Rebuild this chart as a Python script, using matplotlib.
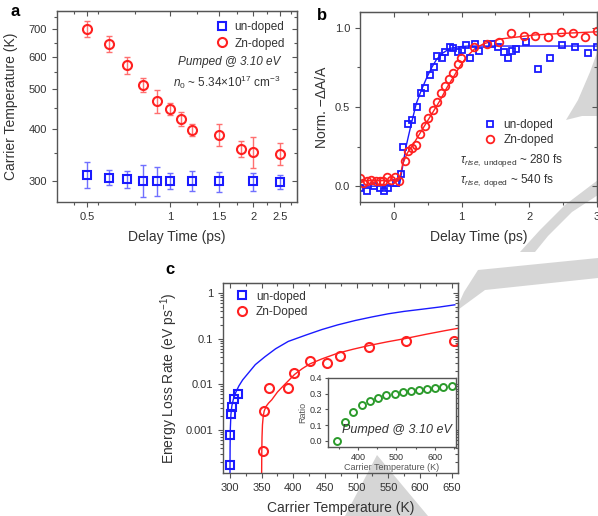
import matplotlib
matplotlib.use('Agg')
import matplotlib.pyplot as plt
from matplotlib.ticker import FixedLocator, NullFormatter, FixedFormatter, MultipleLocator, LogLocator
from matplotlib.patches import Polygon

plt.rcParams['font.family'] = ['Liberation Sans', 'DejaVu Sans']
plt.rcParams['mathtext.fontset'] = 'custom'
plt.rcParams['mathtext.rm'] = 'Liberation Sans'
plt.rcParams['mathtext.it'] = 'Liberation Sans:italic'

# ---- panel a: carrier temperature vs delay
a_t_zn = [0.5, 0.6, 0.7, 0.8, 0.9, 1.0, 1.1, 1.2, 1.5, 1.8, 2.0, 2.5]
a_T_zn = [703, 646, 572, 513, 469, 449, 424, 398, 388, 359, 352, 349]
a_err_zn = [31, 30, 28, 21, 30, 15, 16, 13, 24, 16, 31, 22]
a_t_un = [0.5, 0.6, 0.7, 0.8, 0.9, 1.0, 1.2, 1.5, 2.0, 2.5]
a_T_un = [310, 305, 302, 300, 299.5, 299.5, 299.5, 298.5, 298.5, 298]
a_err_un = [22, 13, 15, 27, 25, 14, 17, 17, 15, 12]

# ---- panel b: normalised -dA/A
b_t_un = [-0.50, -0.40, -0.30, -0.21, -0.15, -0.09, 0.03, 0.10, 0.14, 0.21, 0.27, 0.34,
          0.40, 0.46, 0.53, 0.59, 0.64, 0.71, 0.76, 0.83, 0.88, 0.95, 1.00, 1.07, 1.13,
          1.20, 1.26, 1.38, 1.45, 1.54, 1.62, 1.68, 1.74, 1.81, 1.95, 2.13, 2.31, 2.49,
          2.68, 2.86, 3.00]
b_s_un = [-0.01, -0.03, 0.00, -0.01, -0.03, -0.01, 0.02, 0.08, 0.25, 0.39, 0.42, 0.50,
          0.59, 0.62, 0.70, 0.75, 0.82, 0.81, 0.85, 0.88, 0.87, 0.845, 0.86, 0.89, 0.81,
          0.90, 0.855, 0.90, 0.90, 0.876, 0.845, 0.81, 0.855, 0.866, 0.91, 0.74, 0.81, 0.89,
          0.88, 0.84, 0.88]
b_t_zn = [-0.50, -0.46, -0.40, -0.34, -0.27, -0.21, -0.16, -0.10, -0.04, 0.02, 0.08, 0.16,
          0.21, 0.27, 0.32, 0.39, 0.46, 0.51, 0.58, 0.64, 0.70, 0.76, 0.81, 0.88, 0.94,
          0.99, 1.18, 1.37, 1.55, 1.73, 1.92, 2.09, 2.28, 2.47, 2.64, 2.83, 3.00]
b_s_zn = [0.05, 0.02, 0.03, 0.04, 0.03, 0.03, 0.03, 0.06, 0.04, 0.06, 0.03, 0.16,
          0.22, 0.24, 0.26, 0.33, 0.38, 0.43, 0.48, 0.53, 0.59, 0.63, 0.68, 0.715, 0.77,
          0.81, 0.88, 0.90, 0.91, 0.97, 0.95, 0.95, 0.94, 0.975, 0.965, 0.945, 0.98]
b_fit_t_un = [-0.5, 0.08, 0.12, 0.18, 0.25, 0.33, 0.40, 0.48, 0.56, 0.63, 0.72, 0.83, 0.95, 1.1, 1.3, 3.0]
b_fit_un = [0.0, 0.0, 0.10, 0.25, 0.38, 0.52, 0.60, 0.68, 0.75, 0.80, 0.84, 0.87, 0.88, 0.885, 0.885, 0.885]
b_fit_t_zn = [-0.5, 0.08, 0.13, 0.20, 0.28, 0.38, 0.48, 0.58, 0.68, 0.78, 0.88, 0.98, 1.08, 1.2, 1.33, 1.58, 2.08, 2.5, 3.0]
b_fit_zn = [0.035, 0.035, 0.14, 0.21, 0.26, 0.33, 0.40, 0.47, 0.54, 0.62, 0.69, 0.76, 0.82, 0.87, 0.90, 0.93, 0.955, 0.965, 0.975]

# ---- panel c: energy loss rate vs carrier temperature
c_T_un = [300.5, 300.5, 301, 302.7, 306, 312]
c_rate_un = [1.7e-4, 7.8e-4, 2.2e-3, 3.2e-3, 4.7e-3, 6.0e-3]
c_T_zn = [351.5, 354, 362, 391, 401, 427, 453, 474, 519, 578, 653]
c_rate_zn = [3.5e-4, 2.6e-3, 8.5e-3, 8.5e-3, 0.018, 0.032, 0.029, 0.042, 0.067, 0.087, 0.087]
c_fit_T_un = [300.0, 300.2, 300.6, 301.5, 303, 305.5, 309, 314, 320, 328, 340, 355, 372, 392,
              420, 445, 470, 498, 525, 550, 575, 603, 630, 655]
c_fit_un = [1.0e-4, 4e-4, 1.1e-3, 2.2e-3, 3.4e-3, 4.8e-3, 6.6e-3, 9.2e-3, 0.0125, 0.017, 0.027,
            0.040, 0.060, 0.087, 0.12, 0.158, 0.20, 0.25, 0.30, 0.35, 0.395, 0.44, 0.49, 0.55]
c_fit_T_zn = [350.0, 350.2, 350.6, 351.3, 352.5, 354, 357, 361, 366, 375, 385, 393, 402, 414,
              426, 445, 470, 495, 520, 548, 576, 610, 640, 662]
c_fit_zn = [1.1e-4, 3e-4, 7e-4, 1.3e-3, 2.0e-3, 2.6e-3, 3.3e-3, 3.9e-3, 4.6e-3, 6.8e-3, 9.5e-3,
            0.0123, 0.0165, 0.022, 0.028, 0.036, 0.048, 0.059, 0.071, 0.085, 0.10, 0.125, 0.15, 0.17]
ins_T = [345, 367, 388, 410, 431, 453, 474, 496, 516, 537, 558, 579, 601, 622, 644]
ins_ratio = [0.0, 0.12, 0.185, 0.23, 0.255, 0.275, 0.29, 0.30, 0.31, 0.32, 0.325, 0.33, 0.335, 0.34, 0.35]

blue = '#1a1aff'
red = '#ff2020'
green = '#2a9a2a'
frame = '#555555'
txt = '#333333'

W, H = 598, 516
fig = plt.figure(figsize=(W / 100, H / 100), dpi=100)


def box(l, t, r, b):
    return [l / W, 1 - b / H, (r - l) / W, (b - t) / H]


def style(ax, size=8):
    ax.set_facecolor('none')
    for s in ax.spines.values():
        s.set_color(frame)
        s.set_linewidth(1.0)
    ax.tick_params(which='both', direction='out', color=frame, labelcolor=txt, labelsize=size, width=0.8)
    ax.tick_params(which='major', length=3.5)
    ax.tick_params(which='minor', length=2)


def mirror(ax, xmaj, ymaj, xmin=None, ymin=None):
    top = ax.secondary_xaxis('top')
    right = ax.secondary_yaxis('right')
    for sec, maj, mn in ((top, xmaj, xmin), (right, ymaj, ymin)):
        axis = sec.xaxis if sec is top else sec.yaxis
        axis.set_major_locator(FixedLocator(maj))
        axis.set_major_formatter(NullFormatter())
        if mn is not None:
            axis.set_minor_locator(mn)
        axis.set_minor_formatter(NullFormatter())
        sec.tick_params(which='both', direction='in', color=frame, width=0.8)
        sec.tick_params(which='major', length=3.5)
        sec.tick_params(which='minor', length=2)
        for s in sec.spines.values():
            s.set_color(frame)


# grey watermark shapes behind everything
shapes = [
    [(520, 252), (540, 230), (565, 205), (598, 180), (598, 195), (572, 212), (548, 236), (535, 252)],
    [(566, 120), (578, 100), (590, 72), (598, 50), (598, 116), (582, 116)],
    [(455, 312), (464, 292), (478, 270), (598, 258), (598, 278), (485, 290)],
    [(377, 455), (345, 516), (428, 516)],
]
for pts in shapes:
    fig.add_artist(Polygon([(x / W, 1 - y / H) for x, y in pts], closed=True,
                           transform=fig.transFigure, facecolor='#d6d6d6', edgecolor='none', zorder=-5))

# ---------------- panel a
ax = fig.add_axes(box(57, 11, 297, 202))
style(ax)
ax.set_xscale('log')
ax.set_yscale('log')
ax.errorbar(a_t_zn, a_T_zn, yerr=a_err_zn, fmt='none', ecolor='#ff7070', elinewidth=1, capsize=2)
ax.errorbar(a_t_un, a_T_un, yerr=a_err_un, fmt='none', ecolor='#7070ff', elinewidth=1, capsize=2)
ax.plot(a_t_un, a_T_un, 's', ms=5.5, mfc='none', mec=blue, mew=1.5, label='un-doped')
ax.plot(a_t_zn, a_T_zn, 'o', ms=6.5, mfc='none', mec=red, mew=1.5, label='Zn-doped')
ax.set_xlim(0.39, 2.88)
ax.set_ylim(266, 776)
xt = [0.5, 1, 1.5, 2, 2.5]
yt = [300, 400, 500, 600, 700]
ax.xaxis.set_major_locator(FixedLocator(xt))
ax.xaxis.set_major_formatter(FixedFormatter(['0.5', '1', '1.5', '2', '2.5']))
ax.xaxis.set_minor_locator(FixedLocator([0.45, 0.55, 0.75, 1.25, 1.75, 2.25, 2.75]))
ax.xaxis.set_minor_formatter(NullFormatter())
ax.yaxis.set_major_locator(FixedLocator(yt))
ax.yaxis.set_major_formatter(FixedFormatter([str(v) for v in yt]))
ax.yaxis.set_minor_locator(FixedLocator([350, 450, 550, 650, 750]))
ax.yaxis.set_minor_formatter(NullFormatter())
mirror(ax, xt, yt, FixedLocator([0.45, 0.55, 0.75, 1.25, 1.75, 2.25, 2.75]), FixedLocator([350, 450, 550, 650, 750]))
ax.set_xlabel('Delay Time (ps)', fontsize=10, color=txt, labelpad=6)
ax.set_ylabel('Carrier Temperature (K)', fontsize=10, color=txt, labelpad=8)
ax.legend(loc='upper right', bbox_to_anchor=(0.97, 0.97), frameon=False, fontsize=8.5,
          handletextpad=0.5, borderaxespad=0, labelspacing=0.35, handlelength=1.2, labelcolor=txt)
ax.text(0.93, 0.735, 'Pumped @ 3.10 eV', transform=ax.transAxes, ha='right', va='center',
        fontsize=8.5, style='italic', color=txt)
ax.text(0.93, 0.628, r'$n_0$ ~ 5.34×10$^{17}$ cm$^{-3}$', transform=ax.transAxes, ha='right',
        va='center', fontsize=8.5, color=txt)
fig.text(15 / W, 1 - 12 / H, 'a', fontsize=12, fontweight='bold', ha='center', va='center')

# ---------------- panel b
ax = fig.add_axes(box(360, 12, 597, 202))
style(ax)
ax.plot(b_fit_t_un, b_fit_un, '-', color=blue, lw=1)
ax.plot(b_fit_t_zn, b_fit_zn, '-', color=red, lw=1)
ax.plot(b_t_un, b_s_un, 's', ms=5, mfc='none', mec=blue, mew=1.3, label='un-doped')
ax.plot(b_t_zn, b_s_zn, 'o', ms=5.5, mfc='none', mec=red, mew=1.3, label='Zn-doped')
ax.set_xlim(-0.5, 3.0)
ax.set_ylim(-0.1, 1.1)
ax.xaxis.set_major_locator(MultipleLocator(1))
ax.xaxis.set_minor_locator(MultipleLocator(0.5))
ax.yaxis.set_major_locator(FixedLocator([0.0, 0.5, 1.0]))
ax.yaxis.set_major_formatter(FixedFormatter(['0.0', '0.5', '1.0']))
ax.yaxis.set_minor_locator(FixedLocator([0.25, 0.75]))
mirror(ax, [0, 1, 2, 3], [0.0, 0.5, 1.0], MultipleLocator(0.5), FixedLocator([0.25, 0.75]))
ax.set_xlabel('Delay Time (ps)', fontsize=10, color=txt, labelpad=6)
ax.set_ylabel('Norm. −ΔA/A', fontsize=10, color=txt, labelpad=4)
ax.legend(loc='upper left', bbox_to_anchor=(0.5, 0.46), frameon=False, fontsize=8.5,
          handletextpad=0.5, borderaxespad=0, labelspacing=0.25, handlelength=1.2, labelcolor=txt)
ax.text(0.42, 0.22, r'$\tau_{rise,\ \mathrm{undoped}}$ ~ 280 fs', transform=ax.transAxes,
        fontsize=8.5, color=txt, va='center')
ax.text(0.42, 0.115, r'$\tau_{rise,\ \mathrm{doped}}$ ~ 540 fs', transform=ax.transAxes,
        fontsize=8.5, color=txt, va='center')
fig.text(322 / W, 1 - 15 / H, 'b', fontsize=12, fontweight='bold', ha='center', va='center')

# ---------------- panel c
ax = fig.add_axes(box(223, 283, 458, 473))
style(ax)
ax.set_yscale('log')
ax.plot(c_fit_T_un, c_fit_un, '-', color=blue, lw=1)
ax.plot(c_fit_T_zn, c_fit_zn, '-', color=red, lw=1)
ax.plot(c_T_un, c_rate_un, 's', ms=5.5, mfc='none', mec=blue, mew=1.5, label='un-doped')
ax.plot(c_T_zn, c_rate_zn, 'o', ms=6.5, mfc='none', mec=red, mew=1.5, label='Zn-Doped')
ax.set_xlim(289, 660)
ax.set_ylim(1.15e-4, 1.65)
ax.xaxis.set_major_locator(MultipleLocator(50))
ax.xaxis.set_minor_locator(MultipleLocator(25))
yt = [1e-3, 1e-2, 1e-1, 1]
ax.yaxis.set_major_locator(FixedLocator(yt))
ax.yaxis.set_major_formatter(FixedFormatter(['0.001', '0.01', '0.1', '1']))
ax.yaxis.set_minor_locator(LogLocator(base=10, subs=range(2, 10)))
ax.yaxis.set_minor_formatter(NullFormatter())
mirror(ax, list(range(300, 701, 50)), yt, MultipleLocator(25), LogLocator(base=10, subs=range(2, 10)))
ax.set_xlabel('Carrier Temperature (K)', fontsize=10, color=txt, labelpad=6)
ax.set_ylabel('Energy Loss Rate (eV ps$^{-1}$)', fontsize=10, color=txt, labelpad=4)
ax.legend(loc='upper left', bbox_to_anchor=(0.03, 0.985), frameon=False, fontsize=8.5,
          handletextpad=0.6, borderaxespad=0, labelspacing=0.3, handlelength=1.2, labelcolor=txt)
fig.text(170 / W, 1 - 270 / H, 'c', fontsize=12, fontweight='bold', ha='center', va='center')

# inset
ins = fig.add_axes(box(328, 378, 456, 447))
style(ins, size=6.5)
ins.set_facecolor('white')
ins.plot(ins_T, ins_ratio, 'o', ms=5, mfc='none', mec=green, mew=1.4)
ins.set_xlim(322, 655)
ins.set_ylim(-0.04, 0.40)
ins.xaxis.set_major_locator(MultipleLocator(100))
ins.xaxis.set_minor_locator(MultipleLocator(50))
ins.yaxis.set_major_locator(MultipleLocator(0.1))
ins.yaxis.set_major_formatter(FixedFormatter(['', '0.0', '0.1', '0.2', '0.3', '0.4']))
ins.tick_params(which='major', length=2.5, pad=1.5)
ins.tick_params(which='minor', length=1.5)
ins.set_xlabel('Carrier Temperature (K)', fontsize=6.5, color='#555555', labelpad=1)
ins.set_ylabel('Ratio', fontsize=6.5, color='#555555', labelpad=2)
ins.text(0.97, 0.25, 'Pumped @ 3.10 eV', transform=ins.transAxes, ha='right', va='center',
         fontsize=9, style='italic', color=txt)

fig.savefig('out.png', dpi=100)
